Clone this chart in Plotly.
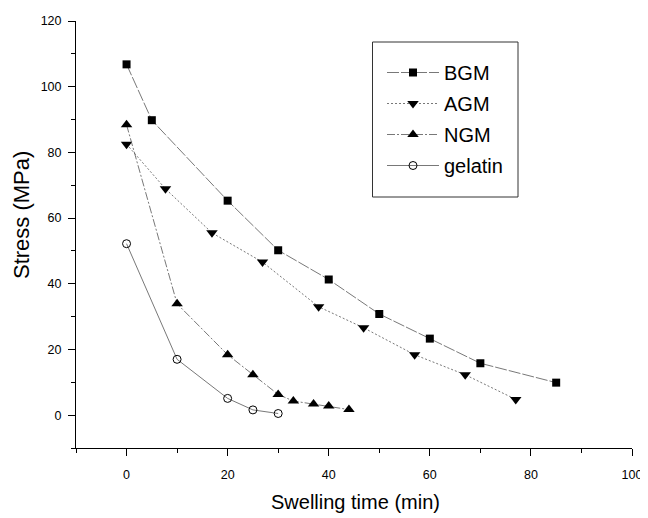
import plotly.graph_objects as go

bgm_x = [0, 5, 20, 30, 40, 50, 60, 70, 85]
bgm_y = [106.8, 89.8, 65.3, 50.2, 41.3, 30.8, 23.3, 15.8, 9.9]
agm_x = [0, 7.7, 16.9, 26.9, 38, 46.9, 57, 67, 77]
agm_y = [82.5, 68.9, 55.5, 46.6, 33, 26.6, 18.4, 12.3, 4.8]
ngm_x = [0, 10, 20, 25, 30, 33, 37, 40, 44]
ngm_y = [88.4, 33.9, 18.4, 12.3, 6.3, 4.3, 3.4, 2.8, 1.7]
gel_x = [0, 10, 20, 25, 30]
gel_y = [52.2, 17, 5.1, 1.6, 0.5]

fig = go.Figure()
line_col = "#555555"
fig.add_trace(go.Scatter(x=bgm_x, y=bgm_y, name="BGM", mode="lines+markers", legendgroup="a",
    line=dict(color=line_col, width=0.8, dash="12px,2px"),
    marker=dict(symbol="square", size=8, color="black")))
fig.add_trace(go.Scatter(x=agm_x, y=agm_y, name="AGM", mode="lines+markers", legendgroup="b",
    line=dict(color=line_col, width=0.8, dash="2px,2px"),
    marker=dict(symbol="triangle-down", size=10, color="black")))
fig.add_trace(go.Scatter(x=ngm_x, y=ngm_y, name="NGM", mode="lines+markers", legendgroup="c",
    line=dict(color=line_col, width=0.8, dash="8px,2px,2px,2px"),
    marker=dict(symbol="triangle-up", size=10, color="black")))
fig.add_trace(go.Scatter(x=gel_x, y=gel_y, name="gelatin", mode="lines+markers", legendgroup="d",
    line=dict(color=line_col, width=0.8),
    marker=dict(symbol="circle-open", size=8, color="black", line=dict(width=1))))

# page body has an 8px margin; plot area should land at x 76..632, y 21..448.5
L, T, R, B = 68, 13, 16, 70
W, H = 640, 510
pw, ph = W - L - R, H - T - B

def px(x):
    return (x - 8 - L) / pw

def py(y):
    return 1 - (y - 8 - T) / ph

font_family = "Liberation Sans, Arial, sans-serif"
fig.update_layout(
    width=W, height=H,
    margin=dict(l=L, r=R, t=T, b=B),
    plot_bgcolor="white", paper_bgcolor="white",
    font=dict(family=font_family, color="black"),
    legend=dict(x=px(382), y=py(53), xanchor="left", yanchor="top",
                borderwidth=0, bgcolor="rgba(0,0,0,0)",
                font=dict(size=20, family=font_family), tracegroupgap=2,
                itemwidth=52),
    showlegend=True,
    shapes=[dict(type="rect", xref="paper", yref="paper",
                 x0=px(372.5), x1=px(518), y0=py(197), y1=py(42),
                 line=dict(color="#333", width=1), fillcolor="rgba(0,0,0,0)")],
    annotations=[
        dict(text="Stress (MPa)", xref="paper", yref="paper", x=px(21), y=py(215),
             xanchor="center", yanchor="middle", textangle=-90, showarrow=False,
             font=dict(size=22)),
        dict(text="Swelling time (min)", xref="paper", yref="paper", x=px(355), y=py(502),
             xanchor="center", yanchor="middle", showarrow=False,
             font=dict(size=20)),
    ],
)
fig.update_xaxes(range=[-10, 100], tickvals=[0, 20, 40, 60, 80, 100], automargin=False,
    ticks="outside", ticklen=7, tickwidth=1, tickcolor="black", ticklabelstandoff=8,
    minor=dict(tickvals=[-10, 10, 30, 50, 70, 90], ticks="outside", ticklen=4, tickcolor="black"),
    showline=True, linecolor="black", linewidth=1, showgrid=False, zeroline=False,
    tickfont=dict(size=12.5))
fig.update_yaxes(range=[-10, 120], tickvals=[0, 20, 40, 60, 80, 100, 120], automargin=False,
    ticks="outside", ticklen=7, tickwidth=1, tickcolor="black", ticklabelstandoff=4,
    minor=dict(tickvals=[-10, 10, 30, 50, 70, 90, 110], ticks="outside", ticklen=4, tickcolor="black"),
    showline=True, linecolor="black", linewidth=1, showgrid=False, zeroline=False,
    tickfont=dict(size=12.5))

fig.write_html("out.html")
